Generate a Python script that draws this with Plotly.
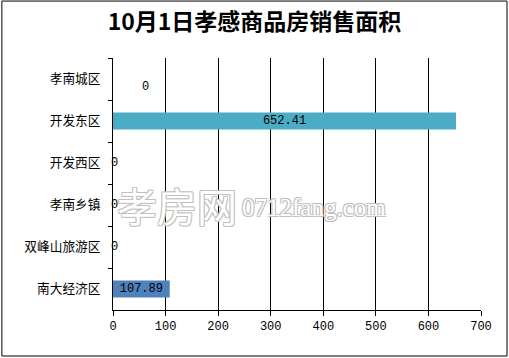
import plotly.graph_objects as go

categories = ["孝南城区", "开发东区", "开发西区", "孝南乡镇", "双峰山旅游区", "南大经济区"]
values = [0, 652.41, 0, 0, 0, 107.89]
bar_colors = ["#4F81BD", "#4BACC6", "#4F81BD", "#4F81BD", "#4F81BD", "#4F81BD"]
x_ticks = [0, 100, 200, 300, 400, 500, 600, 700]
title = "10月1日孝感商品房销售面积"

fig = go.Figure()
fig.add_trace(go.Bar(
    y=categories, x=values, orientation="h",
    marker=dict(color=bar_colors, line=dict(width=0)),
    width=0.4,
    text=[f"{v:.2f}" if v else "" for v in values],
    textposition="inside", insidetextanchor="middle", constraintext="none",
    textfont=dict(family="Liberation Mono", size=12, color="black"),
    hoverinfo="skip",
))

# zero-value labels
for i, (c, v) in enumerate(zip(categories, values)):
    if v == 0:
        shift = (32, -8) if i == 0 else (1, 0)
        fig.add_annotation(x=v, y=c, text="0", showarrow=False,
                           xanchor="center", yanchor="middle",
                           xshift=shift[0], yshift=shift[1],
                           font=dict(family="Liberation Mono", size=12, color="black"))

# watermark
shadow = "1px 1px 0 #c0c0c0, -1px -1px 0 #c0c0c0, 1px -1px 0 #c0c0c0, -1px 1px 0 #c0c0c0"
fig.add_annotation(xref="paper", yref="paper", x=0.005, y=0.415, text="孝房网",
                   showarrow=False, xanchor="left", yanchor="middle",
                   font=dict(family="Noto Sans CJK SC", size=40, color="white", shadow=shadow))
fig.add_annotation(xref="paper", yref="paper", x=0.345, y=0.405, text="0712fang.com",
                   showarrow=False, xanchor="left", yanchor="middle",
                   font=dict(family="Liberation Serif", size=25, color="white", shadow=shadow))

# outer border
fig.add_shape(type="rect", xref="paper", yref="paper",
              x0=-0.302, x1=1.0707, y0=-0.1825, y1=1.226,
              line=dict(color="black", width=1), fillcolor="rgba(0,0,0,0)", layer="below")

fig.update_layout(
    width=509, height=358,
    margin=dict(l=113, r=28, t=58, b=48, autoexpand=False),
    paper_bgcolor="white", plot_bgcolor="white",
    showlegend=False,
    title=dict(text=f"<b>{title}</b>", x=0.5, xref="container", xanchor="center",
               y=1 - 22 / 358, yref="container", yanchor="middle",
               font=dict(family="Noto Sans CJK SC", size=23, color="black")),
    xaxis=dict(range=[0, 700], tickvals=x_ticks, ticktext=[str(t) for t in x_ticks],
               showgrid=True, gridcolor="black", gridwidth=1,
               showline=True, linecolor="black", linewidth=1,
               ticks="outside", ticklen=5, tickcolor="black",
               zeroline=False, fixedrange=True, automargin=False,
               tickfont=dict(family="Liberation Mono", size=12, color="black")),
    yaxis=dict(autorange="reversed", showgrid=False, automargin=False,
               showline=True, linecolor="black", linewidth=1,
               ticks="outside", ticklen=4, tickcolor="black", tickson="boundaries",
               ticklabelstandoff=9,
               tickfont=dict(family="Noto Sans CJK SC", size=12.7, color="black")),
)

fig.write_html("out.html", config={"displayModeBar": False},
               post_script="document.body.style.margin='0';document.body.style.overflow='hidden';")
